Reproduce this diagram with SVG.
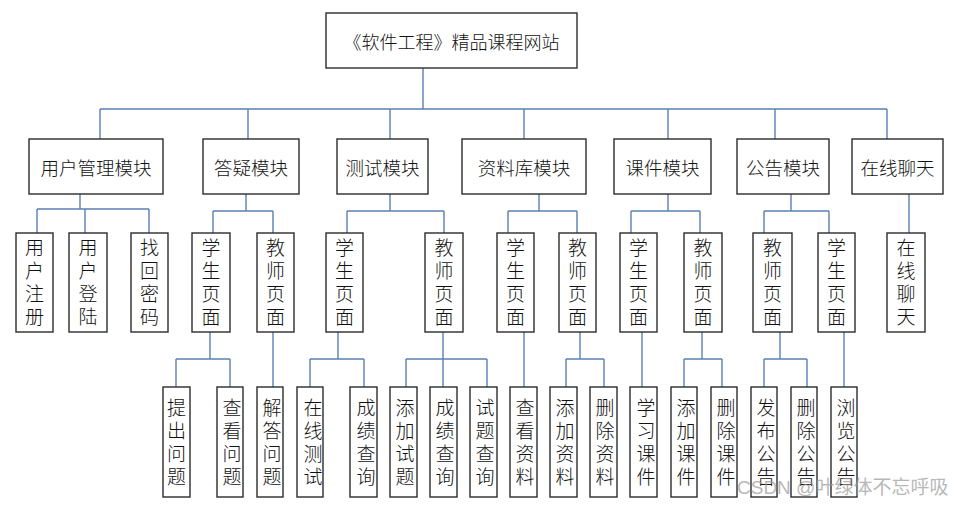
<svg xmlns="http://www.w3.org/2000/svg" width="964" height="505" viewBox="0 0 964 505">
<style>
.box{fill:#fff;stroke:#2b2b2b;stroke-width:1.4}
.t{font-family:"Noto Sans CJK SC","Liberation Sans",sans-serif;font-weight:300;fill:#111;text-anchor:middle;dominant-baseline:central}
.h{font-size:18.5px}
.w{font-size:18px}
.v{font-size:19px;writing-mode:vertical-rl;letter-spacing:4px}
.c{fill:none;stroke:#5b80b5;stroke-width:1.4}
.wm{font-family:"Liberation Sans","Noto Sans CJK SC",sans-serif;font-size:19px;fill:#9a9a9a;opacity:0.7}
</style>
<rect width="964" height="505" fill="#fff"/>
<g id="connectors">
<path class="c" d="M423,68V109M100,109H887M100,109V139M248,109V139M390,109V139M524,109V139M668,109V139M775,109V139M887,109V139"/>
<path class="c" d="M80,194V209M37,209H149M37,209V233M85,209V233M149,209V233"/>
<path class="c" d="M246,194V211M213,211H273M213,211V233M273,211V233"/>
<path class="c" d="M390,194V211M347,211H444M347,211V233M444,211V233"/>
<path class="c" d="M539,194V211M508,211H577M508,211V233M577,211V233"/>
<path class="c" d="M668,194V211M631,211H700M631,211V233M700,211V233"/>
<path class="c" d="M791,194V211M764,211H829M764,211V233M829,211V233"/>
<path class="c" d="M909,194V233"/>
<path class="c" d="M210,332V359M176,359H230M176,359V387M230,359V387"/>
<path class="c" d="M273,332V387"/>
<path class="c" d="M338,332V359M310,359H364M310,359V387M364,359V387"/>
<path class="c" d="M443,332V359M406,359H487M406,359V387M443,359V387M487,359V387"/>
<path class="c" d="M524,332V387"/>
<path class="c" d="M580,332V359M566,359H604M566,359V387M604,359V387"/>
<path class="c" d="M642,332V387"/>
<path class="c" d="M702,332V359M684,359H722M684,359V387M722,359V387"/>
<path class="c" d="M780,332V359M764,359H807M764,359V387M807,359V387"/>
<path class="c" d="M844,332V387"/>
</g>
<g id="root"><rect class="box" x="326" y="13" width="251" height="55"/><text class="t w" x="451.5" y="41">《软件工程》精品课程网站</text></g>
<g id="m1"><rect class="box" x="29" y="139" width="134" height="55"/><text class="t h" x="96" y="167">用户管理模块</text></g>
<g id="m2"><rect class="box" x="203" y="139" width="96" height="55"/><text class="t h" x="251" y="167">答疑模块</text></g>
<g id="m3"><rect class="box" x="337" y="139" width="91" height="55"/><text class="t h" x="382.5" y="167">测试模块</text></g>
<g id="m4"><rect class="box" x="462" y="139" width="124" height="55"/><text class="t h" x="524" y="167">资料库模块</text></g>
<g id="m5"><rect class="box" x="614" y="139" width="97" height="55"/><text class="t h" x="662.5" y="167">课件模块</text></g>
<g id="m6"><rect class="box" x="737" y="139" width="92" height="55"/><text class="t h" x="783" y="167">公告模块</text></g>
<g id="m7"><rect class="box" x="852" y="139" width="91" height="55"/><text class="t h" x="897.5" y="167">在线聊天</text></g>
<g id="l3a"><rect class="box" x="16" y="233" width="37" height="99"/><text class="t v" x="34.5" y="284">用户注册</text></g>
<g id="l3b"><rect class="box" x="69" y="233" width="38" height="99"/><text class="t v" x="88" y="284">用户登陆</text></g>
<g id="l3c"><rect class="box" x="131" y="233" width="37" height="99"/><text class="t v" x="149.5" y="284">找回密码</text></g>
<g id="l3d"><rect class="box" x="192" y="233" width="38" height="99"/><text class="t v" x="211" y="284">学生页面</text></g>
<g id="l3e"><rect class="box" x="257" y="233" width="37" height="99"/><text class="t v" x="275.5" y="284">教师页面</text></g>
<g id="l3f"><rect class="box" x="326" y="233" width="37" height="99"/><text class="t v" x="344.5" y="284">学生页面</text></g>
<g id="l3g"><rect class="box" x="425" y="233" width="38" height="99"/><text class="t v" x="444" y="284">教师页面</text></g>
<g id="l3h"><rect class="box" x="497" y="233" width="37" height="99"/><text class="t v" x="515.5" y="284">学生页面</text></g>
<g id="l3i"><rect class="box" x="559" y="233" width="37" height="99"/><text class="t v" x="577.5" y="284">教师页面</text></g>
<g id="l3j"><rect class="box" x="620" y="233" width="37" height="99"/><text class="t v" x="638.5" y="284">学生页面</text></g>
<g id="l3k"><rect class="box" x="684" y="233" width="38" height="99"/><text class="t v" x="703" y="284">教师页面</text></g>
<g id="l3l"><rect class="box" x="753" y="233" width="39" height="99"/><text class="t v" x="772.5" y="284">教师页面</text></g>
<g id="l3m"><rect class="box" x="818" y="233" width="37" height="99"/><text class="t v" x="836.5" y="284">学生页面</text></g>
<g id="l3n"><rect class="box" x="887" y="233" width="38" height="99"/><text class="t v" x="906" y="284">在线聊天</text></g>
<g id="l4a"><rect class="box" x="163" y="387" width="27" height="110"/><text class="t v" x="176.5" y="444">提出问题</text></g>
<g id="l4b"><rect class="box" x="217" y="387" width="26" height="110"/><text class="t v" x="232" y="444">查看问题</text></g>
<g id="l4c"><rect class="box" x="257" y="387" width="26" height="110"/><text class="t v" x="272" y="444">解答问题</text></g>
<g id="l4d"><rect class="box" x="297" y="387" width="26" height="110"/><text class="t v" x="313" y="444">在线测试</text></g>
<g id="l4e"><rect class="box" x="350" y="387" width="27" height="110"/><text class="t v" x="366" y="444">成绩查询</text></g>
<g id="l4f"><rect class="box" x="390" y="387" width="27" height="110"/><text class="t v" x="405" y="444">添加试题</text></g>
<g id="l4g"><rect class="box" x="430" y="387" width="27" height="110"/><text class="t v" x="445" y="444">成绩查询</text></g>
<g id="l4h"><rect class="box" x="470" y="387" width="27" height="110"/><text class="t v" x="485" y="444">试题查询</text></g>
<g id="l4i"><rect class="box" x="510" y="387" width="27" height="110"/><text class="t v" x="525" y="444">查看资料</text></g>
<g id="l4j"><rect class="box" x="550" y="387" width="27" height="110"/><text class="t v" x="565" y="444">添加资料</text></g>
<g id="l4k"><rect class="box" x="590" y="387" width="27" height="110"/><text class="t v" x="605" y="444">删除资料</text></g>
<g id="l4l"><rect class="box" x="630" y="387" width="27" height="110"/><text class="t v" x="646" y="444">学习课件</text></g>
<g id="l4m"><rect class="box" x="671" y="387" width="26" height="110"/><text class="t v" x="686" y="444">添加课件</text></g>
<g id="l4n"><rect class="box" x="711" y="387" width="26" height="110"/><text class="t v" x="726" y="444">删除课件</text></g>
<g id="l4o"><rect class="box" x="751" y="387" width="26" height="110"/><text class="t v" x="766" y="444">发布公告</text></g>
<g id="l4p"><rect class="box" x="791" y="387" width="26" height="110"/><text class="t v" x="806" y="444">删除公告</text></g>
<g id="l4q"><rect class="box" x="831" y="387" width="26" height="110"/><text class="t v" x="846" y="444">浏览公告</text></g>
<text class="wm" x="737" y="494">CSDN @叶绿体不忘呼吸</text>
</svg>
